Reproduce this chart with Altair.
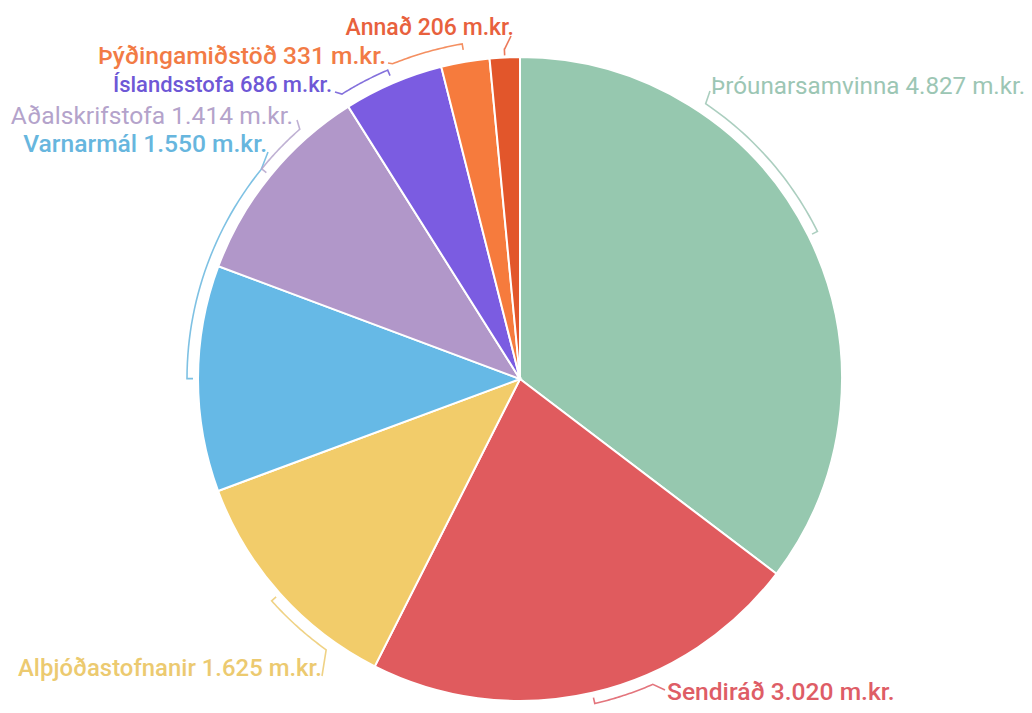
import altair as alt
import pandas as pd
import numpy as np

# ---- data ----
categories = ["Þróunarsamvinna", "Sendiráð", "Alþjóðastofnanir", "Varnarmál",
              "Aðalskrifstofa", "Íslandsstofa", "Þýðingamiðstöð", "Annað"]
values = [4827, 3020, 1625, 1550, 1414, 686, 331, 206]
unit = "m.kr."

# ---- styles ----
slice_colors = ["#96c8af", "#e05b5e", "#f2cc6a", "#66b9e6",
                "#b197c9", "#7b5ce1", "#f67b3d", "#e2562b"]
label_colors = ["#9cc6b4", "#de5d66", "#ecca70", "#67b6de",
                "#b4a3cb", "#6e58d6", "#f27b45", "#e8613d"]
label_sizes = [24.2, 24.6, 23.9, 24.6, 24.6, 22.0, 24.6, 23.0]
label_weights = [400, 500, 500, 500, 400, 500, 500, 500]
R = 322          # pie radius (px)

# ---- label layout (offsets from pie centre, px, y downward) ----
# anchor dx, anchor dy (baseline), align, bracket end angle (deg), bracket radius, hook dx, hook dy
layout = [
    (191, -285, "left", 34.0, 332, 190, -288),
    (147, 321, "left", 156.5, 333, 145, 311),
    (-198, 297, "right", 215.6, 333, -198, 297),
    (-253, -227, "right", 309.0, 333, -252, -227),
    (-227, -255, "right", 318.6, 333, -223, -259),
    (-188, -287, "right", 328.0, 336, -185, -287),
    (-134, -315, "right", 338.0, 340, -132, -316),
    (-6, -344, "right", 357.3, 330, -9, -343),
]

df = pd.DataFrame({"cat": categories, "value": values, "idx": range(len(values))})

def fmt(v):
    return f"{v:,}".replace(",", ".")

lab = pd.DataFrame({
    "text": [f"{c} {fmt(v)} {unit}" for c, v in zip(categories, values)],
    "dx": [l[0] for l in layout],
    "dy": [l[1] for l in layout],
    "align": [l[2] for l in layout],
    "lcolor": label_colors,
    "size": label_sizes,
    "weight": label_weights,
})

# brackets: derived from slice mid angles and layout
vals = np.array(values, dtype=float)
cum = np.cumsum(vals)
mids = (cum - vals / 2) / cum[-1] * 360.0
rows = []
for k, (c, m, l) in enumerate(zip(categories, mids, layout)):
    end, rb, hx, hy = l[3], l[4], l[5], l[6]
    pts = []
    a = np.radians(m)
    pts.append(((rb - 6) * np.sin(a), -(rb - 6) * np.cos(a)))
    for t in np.linspace(m, end, 30):
        a = np.radians(t)
        pts.append((rb * np.sin(a), -rb * np.cos(a)))
    pts.append((hx, hy))
    for i, (x, y) in enumerate(pts):
        rows.append({"cat": c, "i": i, "x": float(x), "y": float(y), "lcolor": label_colors[k]})
br = pd.DataFrame(rows)

W, H = 1016, 697
CX, CY = 512, 371
xs = alt.Scale(domain=[-CX, W - CX], range=[0, W], nice=False, zero=False)
ys = alt.Scale(domain=[-CY, H - CY], range=[0, H], nice=False, zero=False)

pie = alt.Chart(df).mark_arc(outerRadius=R, stroke="white", strokeWidth=2).encode(
    theta=alt.Theta("value:Q", stack=True),
    color=alt.Color("cat:N", scale=alt.Scale(domain=categories, range=slice_colors), legend=None),
    order=alt.Order("idx:Q"),
    x=alt.value(CX),
    y=alt.value(CY),
)

brackets = alt.Chart(br).mark_line(strokeWidth=1.6, opacity=0.85).encode(
    x=alt.X("x:Q", scale=xs, axis=None),
    y=alt.Y("y:Q", scale=ys, axis=None),
    detail="cat:N",
    order="i:Q",
    color=alt.Color("lcolor:N", scale=None),
)

def text_layer(align, weight):
    sub = lab[(lab["align"] == align) & (lab["weight"] == weight)]
    return alt.Chart(sub).mark_text(
        align=align, baseline="alphabetic", font="Roboto", fontWeight=weight
    ).encode(
        x=alt.X("dx:Q", scale=xs, axis=None),
        y=alt.Y("dy:Q", scale=ys, axis=None),
        text="text:N",
        size=alt.Size("size:Q", scale=None),
        color=alt.Color("lcolor:N", scale=None),
    )

chart = alt.layer(
    pie, brackets,
    text_layer("left", 400), text_layer("left", 500),
    text_layer("right", 400), text_layer("right", 500)
).resolve_scale(
    color="independent"
).properties(
    width=W, height=H, autosize="none", padding=0
).configure_view(stroke=None)

chart.save("out.html", embed_options={"renderer": "svg", "actions": False})
